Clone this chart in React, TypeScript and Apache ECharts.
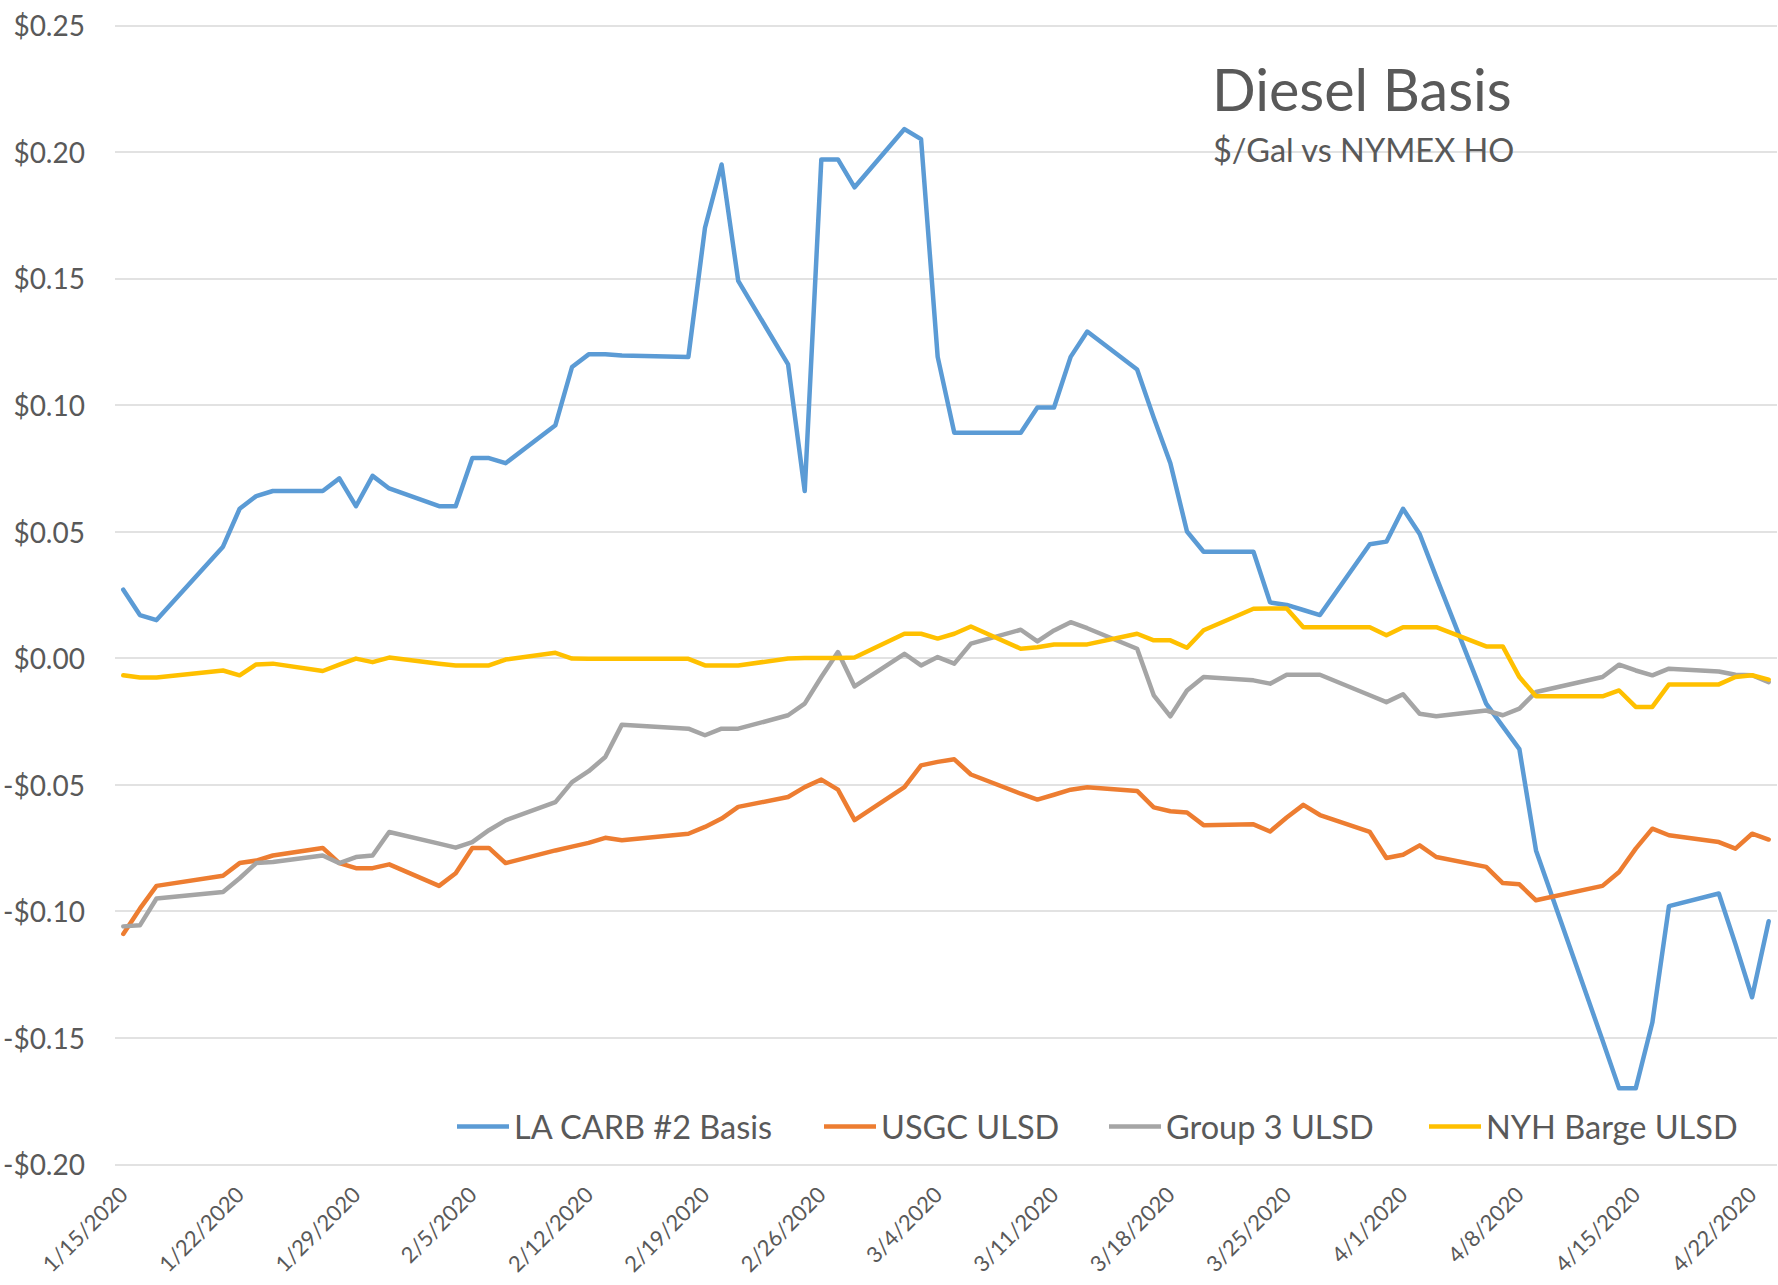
import React, { useEffect, useRef } from 'react';
import * as echarts from 'echarts';

// Trading dates (MLK Day, Presidents Day and Good Friday absent)
const dates = [
  '2020-01-15', '2020-01-16', '2020-01-17', '2020-01-21', '2020-01-22', '2020-01-23', '2020-01-24',
  '2020-01-27', '2020-01-28', '2020-01-29', '2020-01-30', '2020-01-31',
  '2020-02-03', '2020-02-04', '2020-02-05', '2020-02-06', '2020-02-07',
  '2020-02-10', '2020-02-11', '2020-02-12', '2020-02-13', '2020-02-14',
  '2020-02-18', '2020-02-19', '2020-02-20', '2020-02-21',
  '2020-02-24', '2020-02-25', '2020-02-26', '2020-02-27', '2020-02-28',
  '2020-03-02', '2020-03-03', '2020-03-04', '2020-03-05', '2020-03-06',
  '2020-03-09', '2020-03-10', '2020-03-11', '2020-03-12', '2020-03-13',
  '2020-03-16', '2020-03-17', '2020-03-18', '2020-03-19', '2020-03-20',
  '2020-03-23', '2020-03-24', '2020-03-25', '2020-03-26', '2020-03-27',
  '2020-03-30', '2020-03-31', '2020-04-01', '2020-04-02', '2020-04-03',
  '2020-04-06', '2020-04-07', '2020-04-08', '2020-04-09',
  '2020-04-13', '2020-04-14', '2020-04-15', '2020-04-16', '2020-04-17',
  '2020-04-20', '2020-04-21', '2020-04-22', '2020-04-23',
];

const laCarb = [
  0.027, 0.017, 0.015, 0.044, 0.059, 0.064, 0.066, 0.066, 0.071, 0.060, 0.072, 0.067,
  0.060, 0.060, 0.079, 0.079, 0.077, 0.092, 0.115, 0.120, 0.120, 0.1195, 0.119, 0.170, 0.195, 0.149,
  0.116, 0.066, 0.197, 0.197, 0.186,
  0.209, 0.205, 0.119, 0.089, 0.089, 0.089, 0.099, 0.099, 0.119, 0.129, 0.114, 0.095, 0.077, 0.050,
  0.042, 0.042, 0.022, 0.021, 0.019, 0.017, 0.045, 0.046,
  0.059, 0.049, 0.032, -0.018, -0.027, -0.036, -0.076, -0.151, -0.170, -0.170, -0.144, -0.098,
  -0.093, -0.113, -0.134, -0.104,
];

const usgc = [
  -0.109, -0.099, -0.090, -0.086, -0.081, -0.080, -0.078, -0.075, -0.081, -0.083, -0.083, -0.0815,
  -0.090, -0.085, -0.075, -0.075, -0.081, -0.076, -0.0745, -0.073, -0.071, -0.072, -0.0694, -0.0667,
  -0.0634, -0.0588, -0.0549, -0.051, -0.048, -0.052, -0.064,
  -0.051, -0.0424, -0.041, -0.040, -0.046, -0.0536, -0.0559, -0.054, -0.052, -0.051, -0.0525, -0.059,
  -0.0605, -0.061, -0.066, -0.0657, -0.0685, -0.063, -0.058, -0.062, -0.0687, -0.079,
  -0.0777, -0.074, -0.0786, -0.0825, -0.0889, -0.0894, -0.0957, -0.090, -0.0845, -0.0753, -0.0674,
  -0.070, -0.0727, -0.0753, -0.0694, -0.0717,
];

const group3 = [
  -0.106, -0.1056, -0.095, -0.0924, -0.087, -0.081, -0.0806, -0.078, -0.081, -0.0786, -0.078, -0.0687,
  -0.0733, -0.0749, -0.0727, -0.068, -0.0641, -0.0569, -0.049, -0.0447, -0.0391, -0.0263, -0.0279,
  -0.0305, -0.0279, -0.0279, -0.0226, -0.018, -0.0075, 0.0024, -0.0112,
  0.0017, -0.0029, 0.0004, -0.0022, 0.0057, 0.0112, 0.0066, 0.0109, 0.0142, 0.0118, 0.0037, -0.0147,
  -0.023, -0.0128, -0.0075, -0.0088, -0.0101, -0.0066, -0.0066, -0.0066, -0.0147, -0.0174,
  -0.0143, -0.022, -0.023, -0.0207, -0.0226, -0.020, -0.0134, -0.0075, -0.0026, -0.0049, -0.0068,
  -0.0042, -0.0053, -0.0066, -0.0068, -0.0095,
];

const nyhBarge = [
  -0.0068, -0.0077, -0.0077, -0.0049, -0.0068, -0.0025, -0.0022, -0.0051, -0.0026, -0.0002, -0.0016, 0.0002,
  -0.0022, -0.0029, -0.0029, -0.0029, -0.0006, 0.0021, -0.0002, -0.0003, -0.0003, -0.0003, -0.0003,
  -0.0029, -0.0029, -0.0029, -0.0002, 0.0, 0.0, 0.0, 0.0002,
  0.0096, 0.0096, 0.0077, 0.0096, 0.0125, 0.0037, 0.0043, 0.0054, 0.0054, 0.0054, 0.0096, 0.007,
  0.007, 0.0041, 0.011, 0.0195, 0.0196, 0.0196, 0.0122, 0.0122, 0.0122, 0.009,
  0.0122, 0.0122, 0.0122, 0.0046, 0.0046, -0.0075, -0.0151, -0.0151, -0.0128, -0.0193, -0.0193,
  -0.0104, -0.0104, -0.0075, -0.0068, -0.0085,
];

const seriesNames = ['LA CARB #2 Basis', 'USGC ULSD', 'Group 3 ULSD', 'NYH Barge ULSD'];
const seriesColors = ['#5B9BD5', '#ED7D31', '#A5A5A5', '#FFC000'];

const xTickLabels = [
  '1/15/2020', '1/22/2020', '1/29/2020', '2/5/2020', '2/12/2020', '2/19/2020', '2/26/2020',
  '3/4/2020', '3/11/2020', '3/18/2020', '3/25/2020', '4/1/2020', '4/8/2020', '4/15/2020', '4/22/2020',
];

const yTickValues = [-0.2, -0.15, -0.1, -0.05, 0, 0.05, 0.1, 0.15, 0.2, 0.25];

const titleText = 'Diesel Basis';
const subtitleText = '$/Gal vs NYMEX HO';

const BASE = Date.UTC(2020, 0, 15);
const DAY = 86400000;
const isoToDay = (s: string) => {
  const [y, m, d] = s.split('-').map(Number);
  return Math.round((Date.UTC(y, m - 1, d) - BASE) / DAY);
};
const mdyToDay = (s: string) => {
  const [m, d, y] = s.split('/').map(Number);
  return Math.round((Date.UTC(y, m - 1, d) - BASE) / DAY);
};

const FONT = 'Lato';
const TEXT = '#595959';

export default function App() {
  const ref = useRef<HTMLDivElement>(null);

  useEffect(() => {
    if (!ref.current) return;
    const chart = echarts.init(ref.current, null, { renderer: 'svg' });

    const dayIdx = dates.map(isoToDay);
    const xTickValues = xTickLabels.map(mdyToDay);
    const allSeries = [laCarb, usgc, group3, nyhBarge];
    const legendLefts = [457, 824, 1109, 1429];

    const fmtY = (v: number) => {
      if (Math.abs(v) < 1e-9) return '$0.00';
      return (v < 0 ? '-$' : '$') + Math.abs(v).toFixed(2);
    };

    const option: any = {
      animation: false,
      backgroundColor: '#ffffff',
      textStyle: { fontFamily: FONT },
      title: [
        {
          text: titleText,
          left: 1212,
          top: 60,
          padding: 0,
          textStyle: { fontFamily: FONT, fontSize: 57.5, fontWeight: 'normal', color: TEXT, lineHeight: 57.5 },
        },
        {
          text: subtitleText,
          left: 1213,
          top: 133,
          padding: 0,
          textStyle: { fontFamily: FONT, fontSize: 32.5, fontWeight: 'normal', color: TEXT, lineHeight: 32.5 },
        },
      ],
      legend: seriesNames.map((name, i) => ({
        data: [name],
        left: legendLefts[i],
        top: 1110,
        padding: 0,
        icon: 'rect',
        itemWidth: 52,
        itemHeight: 4.5,
        itemGap: 0,
        selectedMode: false,
        textStyle: { fontFamily: FONT, fontSize: 32.5, color: TEXT, lineHeight: 32.5 },
      })),
      grid: { left: 113, right: 1, top: 25.3, bottom: 120.7, containLabel: false },
      xAxis: {
        type: 'value',
        min: -0.5,
        max: 99.5,
        axisLine: { show: false },
        axisTick: { show: false },
        splitLine: { show: false },
        axisLabel: {
          customValues: xTickValues,
          formatter: (v: number) => {
            const i = xTickValues.indexOf(Math.round(v));
            return i >= 0 ? xTickLabels[i] : '';
          },
          rotate: 45,
          margin: 26,
          fontFamily: FONT,
          fontSize: 22,
          color: TEXT,
        },
      },
      yAxis: {
        type: 'value',
        min: yTickValues[0],
        max: yTickValues[yTickValues.length - 1],
        interval: 0.05,
        axisLine: { show: false },
        axisTick: { show: false },
        splitLine: { show: true, lineStyle: { color: '#d9d9d9', width: 1.5 } },
        axisLabel: {
          formatter: fmtY,
          margin: 30,
          fontFamily: FONT,
          fontSize: 28,
          color: TEXT,
        },
      },
      series: allSeries.map((vals, si) => ({
        name: seriesNames[si],
        type: 'line',
        data: vals.map((v, i) => [dayIdx[i], v]),
        symbol: 'none',
        color: seriesColors[si],
        lineStyle: { width: 4.5, color: seriesColors[si], cap: 'round', join: 'round' },
        emphasis: { disabled: true },
        silent: true,
      })),
    };

    chart.setOption(option);
    return () => chart.dispose();
  }, []);

  return (
    <div
      ref={ref}
      style={{ position: 'absolute', left: 0, top: 0, width: 1778, height: 1285, background: '#ffffff' }}
    />
  );
}
